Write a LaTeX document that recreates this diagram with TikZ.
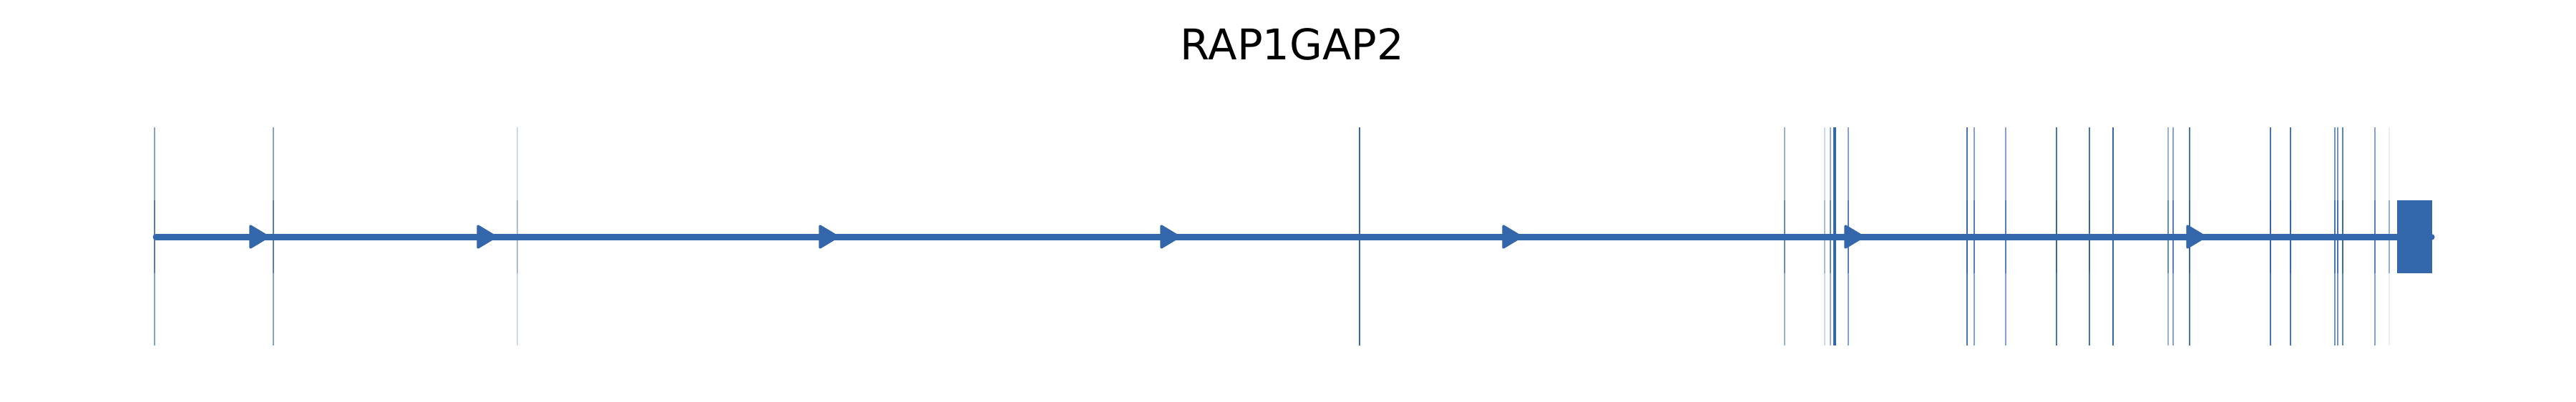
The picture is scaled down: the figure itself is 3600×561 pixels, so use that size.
\documentclass[tikz,border=0pt]{standalone}
\usepackage{fontspec}
\setmainfont{DejaVu Sans}
\usetikzlibrary{math}
\definecolor{genecol}{RGB}{51,102,170}

\begin{document}
\begin{tikzpicture}[x=0.24pt,y=-0.24pt]
      \tikzmath{\ymid = 331; \ytop = 178; \ybot = 483; \yex = 280; \yexb = 382;}
      \useasboundingbox (0,0) rectangle (3600,561);
      \node[anchor=base, font=\fontsize{14.2}{17}\selectfont] (title) at (1806,84) {RAP1GAP2};
      % exon marks
      \foreach \x/\o in {216/0.6, 382/0.6, 723/0.25, 1900/1, 2494/0.5, 2550/0.25, 2558/0.5,
                         2563/1, 2565/1, 2583/0.6, 2749/0.9, 2759/0.6, 2803/0.6, 2874/0.9,
                         2920/0.9, 2953/1, 3030/0.5, 3037/0.6, 3060/0.9, 3173/0.9, 3201/0.9,
                         3263/0.7, 3267/0.7, 3274/0.8, 3319/0.6, 3339/0.1} {
        \draw[genecol, opacity=\o, line width=0.3pt] (\x,\ytop) -- (\x,\ybot);
        \draw[genecol, opacity=\o, line width=0.45pt] (\x,\yex) -- (\x,\yexb);
      }
      \draw[genecol, opacity=0.4, line width=0.45pt] (3339,\yex) -- (3339,\yexb);
      % intron line
      \draw[genecol, line width=2.16pt, line cap=round] (218,\ymid) -- (3398,\ymid);
      % strand arrows
      \foreach \b in {350,668,1146,1623,2101,2579,3057}
        \filldraw[genecol, line width=0.8pt, line join=round] (\b,\ymid-15) -- (\b+25,\ymid) -- (\b,\ymid+15) -- cycle;
      \fill[genecol] (3350,\yex) rectangle (3399,\yexb);
\end{tikzpicture}
\end{document}
